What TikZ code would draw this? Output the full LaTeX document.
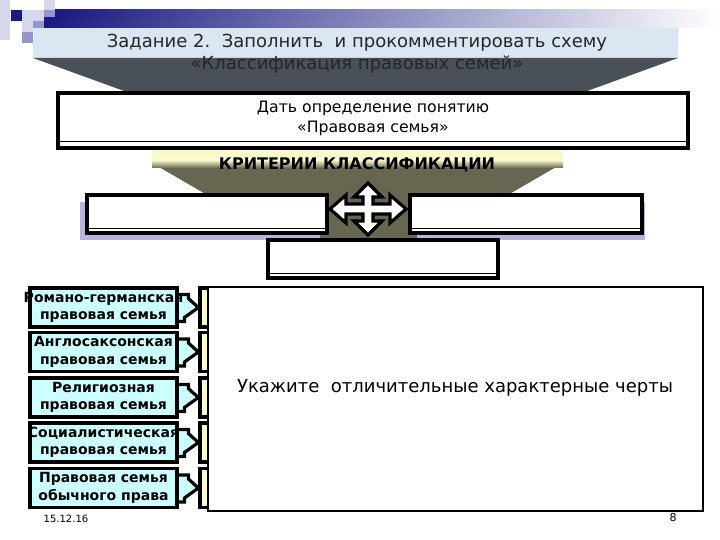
\documentclass[tikz,border=0pt]{standalone}
\usepackage{fontspec}
\setmainfont{DejaVu Sans}
\usetikzlibrary{positioning,calc}

\begin{document}
\begin{tikzpicture}[x=1pt,y=-1pt]

\definecolor{navy}{RGB}{26,26,128}
\definecolor{lavlight}{RGB}{214,214,236}
\definecolor{lavmid}{RGB}{150,150,204}
\definecolor{titleblue}{RGB}{218,230,242}
\definecolor{slate}{RGB}{74,80,88}
\definecolor{olive}{RGB}{104,102,80}
\definecolor{paleyellow}{RGB}{250,250,205}
\definecolor{famcyan}{RGB}{204,255,255}
\definecolor{shadowblue}{RGB}{180,180,220}

\tikzstyle{wbox} = [rectangle, draw=black, fill=white, line width=3.2pt, inner sep=0pt]
\tikzstyle{fam} = [rectangle, draw=black, fill=famcyan, line width=3.2pt, minimum width=147pt, minimum height=39pt, align=center, inner sep=0pt, font=\fontsize{14}{17.5}\selectfont\bfseries]
\tikzstyle{bar} = [rectangle, draw=black, fill=paleyellow, line width=3.2pt, minimum width=12pt, minimum height=39pt]
\tikzstyle{callout} = [draw=black, fill=famcyan, line width=3.2pt, line join=miter]
\tikzstyle{crossarrow} = [draw=black, fill=white, line width=3.2pt, line join=miter]

\useasboundingbox (0,0) rectangle (720,540);

% top band
\fill[lavlight] (0,0) rectangle (10,40);
\fill[navy] (11,10) rectangle (22,21);
\fill[lavlight] (22,10) rectangle (44,21);
\fill[lavlight] (44,0) rectangle (55,10);
\fill[lavmid] (44,10) rectangle (55,18);
\fill[lavlight] (22,21) rectangle (33,32);
\fill[lavmid] (33,21) rectangle (44,32);
\fill[lavmid] (22,32) rectangle (33,43);
\shade[left color=navy, right color=white] (44,18) rectangle (720,28);
\shade[left color=navy, right color=white] (55,10) rectangle (720,18);

\fill[titleblue] (33,28) rectangle (678,58);
\fill[slate] (33,58) -- (678,58) -- (425,150) -- (287,150) -- cycle;

\node[align=center, font=\fontsize{18}{22}\selectfont, text=black!85] (title) at (357,54) {Задание 2.\ \ Заполнить\ \ и прокомментировать схему\\«Классификация правовых семей»};

% definition
\node[wbox, minimum width=630pt, minimum height=55pt] (def) at (373,120.5) {};
\draw[line width=1pt] ($(def.south west)+(2,-8)$) -- ($(def.south east)+(-2,-8)$);
\node[align=center, font=\fontsize{15.7}{20}\selectfont] (deftext) at (373,118) {Дать определение понятию\\«Правовая семья»};

% criteria
\fill[olive] (152,163) -- (563,163) -- (430,240) -- (285,240) -- cycle;
\fill[paleyellow] (152,150) rectangle (563,160);
\shade[top color=paleyellow, bottom color=olive] (152,160) rectangle (563,168);
\node[font=\fontsize{16}{18}\selectfont\bfseries] (crit) at (357,165) {КРИТЕРИИ КЛАССИФИКАЦИИ};

\fill[shadowblue] (80,202) rectangle (320,240);
\fill[shadowblue] (417,202) rectangle (645,240);

\node[wbox, minimum width=240pt, minimum height=38pt] (left) at (207,214) {};
\node[wbox, minimum width=232pt, minimum height=38pt] (right) at (526,214) {};
\node[wbox, minimum width=230pt, minimum height=38pt] (bottom) at (383,259) {};
\draw[line width=0.8pt] ($(left.south west)+(2,-6)$) -- ($(left.south east)+(-2,-6)$);
\draw[line width=0.8pt] ($(right.south west)+(2,-6)$) -- ($(right.south east)+(-2,-6)$);
\draw[line width=0.8pt] ($(bottom.south west)+(2,-6)$) -- ($(bottom.south east)+(-2,-6)$);

\coordinate (cross) at (368,209);
\draw[crossarrow, shift={(cross)}] (-38,0) -- (-22,-14) -- (-22,-5) -- (-5,-5) -- (-5,-12) -- (-14,-12) -- (0,-26) -- (14,-12) -- (5,-12) -- (5,-5) -- (22,-5) -- (22,-14) -- (38,0) -- (22,14) -- (22,5) -- (5,5) -- (5,12) -- (14,12) -- (0,26) -- (-14,12) -- (-5,12) -- (-5,5) -- (-22,5) -- (-22,14) -- cycle;

% families
\node[bar] (Y1) at (206,307.5) {};
\node[bar] (Y2) at (206,352) {};
\node[bar] (Y3) at (206,397.5) {};
\node[bar] (Y4) at (206,442.5) {};
\node[bar] (Y5) at (206,488) {};

\draw[callout] ($(Y1.west)+(-24,-13)$) -- ++(14,0) -- ++(0,4) -- (Y1.west) -- ++(-14,10) -- ++(0,4) -- ++(-10,0);
\draw[callout] ($(Y2.west)+(-24,-13)$) -- ++(14,0) -- ++(0,4) -- (Y2.west) -- ++(-14,10) -- ++(0,4) -- ++(-10,0);
\draw[callout] ($(Y3.west)+(-24,-13)$) -- ++(14,0) -- ++(0,4) -- (Y3.west) -- ++(-14,10) -- ++(0,4) -- ++(-10,0);
\draw[callout] ($(Y4.west)+(-24,-13)$) -- ++(14,0) -- ++(0,4) -- (Y4.west) -- ++(-14,10) -- ++(0,4) -- ++(-10,0);
\draw[callout] ($(Y5.west)+(-24,-13)$) -- ++(14,0) -- ++(0,4) -- (Y5.west) -- ++(-14,10) -- ++(0,4) -- ++(-10,0);

\node[fam] (F1) at (103.5,307.5) {\makebox[138pt]{Романо-германская}\\правовая семья};
\node[fam] (F2) at (103.5,352) {\makebox[138pt]{Англосаксонская}\\правовая семья};
\node[fam] (F3) at (103.5,397.5) {Религиозная\\правовая семья};
\node[fam] (F4) at (103.5,442.5) {\makebox[138pt]{Социалистическая}\\правовая семья};
\node[fam] (F5) at (103.5,488) {Правовая семья\\обычного права};

% features
\node[draw=black, fill=white, line width=1.5pt, minimum width=495pt, minimum height=224pt, inner sep=0pt] (note) at (455.5,399) {};
\node[font=\fontsize{18}{20}\selectfont] (notetext) at (455,388) {Укажите\ \ отличительные характерные черты};

\node[font=\fontsize{10}{12}\selectfont] (date) at (66,519) {15.12.16};
\node[font=\fontsize{11}{12}\selectfont] (page) at (673,517) {8};

\end{tikzpicture}
\end{document}
